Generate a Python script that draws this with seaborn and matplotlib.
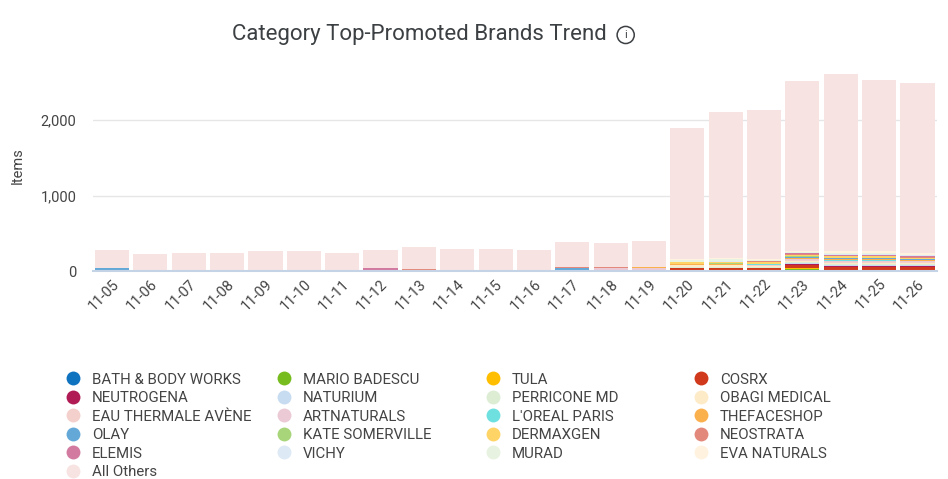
import numpy as np
import pandas as pd
import seaborn as sns
import matplotlib.pyplot as plt
from matplotlib.lines import Line2D
from matplotlib.ticker import StrMethodFormatter

# dates on the x axis
dates = ["11-05", "11-06", "11-07", "11-08", "11-09", "11-10", "11-11", "11-12",
         "11-13", "11-14", "11-15", "11-16", "11-17", "11-18", "11-19", "11-20",
         "11-21", "11-22", "11-23", "11-24", "11-25", "11-26"]

# total items per day (bar height)
totals = [278, 225, 240, 240, 265, 265, 240, 278, 318, 290, 290, 278,
          385, 370, 397, 1895, 2105, 2130, 2515, 2610, 2530, 2490]

# brand series, stacked bottom -> top in this order
bath_body_works = [0, 0, 0, 0, 0, 0, 0, 0, 0, 0, 0, 0, 0, 0, 0, 0, 0, 0, 10, 5, 5, 5]
mario_badescu   = [0, 0, 0, 0, 0, 0, 0, 0, 0, 0, 0, 0, 0, 0, 0, 0, 0, 0, 20, 0, 0, 0]
tula            = [0, 0, 0, 0, 0, 0, 0, 0, 0, 0, 0, 0, 0, 0, 15, 10, 10, 10, 15, 10, 10, 10]
cosrx           = [0, 0, 0, 0, 0, 0, 0, 0, 0, 0, 0, 0, 20, 20, 0, 35, 35, 35, 35, 40, 40, 40]
neutrogena      = [0, 0, 0, 0, 0, 0, 0, 0, 0, 0, 0, 0, 0, 0, 0, 0, 0, 0, 15, 15, 15, 15]
naturium        = [0, 0, 0, 0, 0, 0, 0, 0, 0, 0, 0, 0, 0, 0, 0, 0, 0, 0, 15, 10, 10, 10]
perricone_md    = [0, 0, 0, 0, 0, 0, 0, 0, 0, 0, 0, 0, 0, 0, 0, 15, 15, 10, 10, 15, 15, 15]
obagi_medical   = [0, 0, 0, 0, 0, 0, 0, 0, 0, 0, 0, 0, 0, 0, 0, 15, 15, 15, 10, 15, 15, 10]
eau_thermale    = [0, 0, 0, 0, 0, 0, 0, 0, 0, 0, 0, 0, 0, 0, 0, 10, 10, 10, 15, 15, 15, 15]
artnaturals     = [0, 0, 0, 0, 0, 0, 0, 15, 0, 0, 0, 0, 0, 15, 30, 0, 0, 0, 10, 10, 10, 10]
loreal_paris    = [0, 0, 0, 0, 0, 0, 0, 0, 0, 0, 0, 0, 0, 0, 0, 0, 0, 10, 10, 10, 10, 10]
thefaceshop     = [0, 0, 0, 0, 0, 0, 0, 0, 0, 0, 0, 0, 0, 0, 15, 10, 10, 0, 15, 10, 10, 10]
olay            = [35, 0, 0, 0, 0, 0, 0, 0, 0, 0, 0, 0, 15, 0, 0, 0, 0, 0, 10, 15, 15, 15]
kate_somerville = [0, 0, 0, 0, 0, 0, 0, 0, 0, 0, 0, 0, 0, 0, 0, 0, 10, 10, 10, 10, 10, 0]
dermaxgen       = [0, 0, 0, 0, 0, 0, 0, 0, 0, 0, 0, 0, 0, 0, 0, 20, 20, 15, 15, 15, 15, 10]
neostrata       = [0, 0, 0, 0, 0, 0, 0, 0, 25, 0, 0, 0, 15, 15, 0, 0, 0, 15, 10, 10, 10, 10]
elemis          = [0, 0, 0, 0, 0, 0, 0, 20, 0, 0, 0, 0, 0, 0, 0, 0, 0, 0, 10, 15, 15, 15]
vichy           = [0, 0, 0, 0, 0, 0, 0, 0, 0, 0, 0, 0, 0, 0, 0, 10, 10, 5, 10, 10, 10, 10]
murad           = [0, 0, 0, 0, 0, 0, 0, 0, 0, 0, 0, 0, 0, 0, 0, 20, 20, 10, 10, 15, 15, 10]
eva_naturals    = [0, 0, 0, 0, 0, 0, 0, 0, 0, 0, 0, 0, 0, 0, 0, 15, 15, 10, 15, 20, 20, 15]

brands = ["BATH & BODY WORKS", "MARIO BADESCU", "TULA", "COSRX",
          "NEUTROGENA", "NATURIUM", "PERRICONE MD", "OBAGI MEDICAL",
          "EAU THERMALE AVÈNE", "ARTNATURALS", "L'OREAL PARIS", "THEFACESHOP",
          "OLAY", "KATE SOMERVILLE", "DERMAXGEN", "NEOSTRATA",
          "ELEMIS", "VICHY", "MURAD", "EVA NATURALS", "All Others"]

colors = ["#0f73c0", "#77bc1f", "#ffbf00", "#d0391c",
          "#b01b55", "#c7dcf0", "#dcedd4", "#fdebc8",
          "#f3d0cc", "#ebc9d5", "#6fe0e0", "#fbb04e",
          "#64a8d8", "#a8d57a", "#ffd466", "#e3897b",
          "#d27aa0", "#dde9f5", "#e7f2e1", "#fff3df", "#f8e3e3"]

series = [bath_body_works, mario_badescu, tula, cosrx, neutrogena, naturium,
          perricone_md, obagi_medical, eau_thermale, artnaturals, loreal_paris,
          thefaceshop, olay, kate_somerville, dermaxgen, neostrata, elemis,
          vichy, murad, eva_naturals]

df = pd.DataFrame(dict(zip(brands[:-1], series)), index=dates)
df["All Others"] = np.array(totals) - df.sum(axis=1)
cum = df.cumsum(axis=1)

sns.set_style("white")
plt.rcParams["font.family"] = ["Roboto", "DejaVu Sans"]

fig = plt.figure(figsize=(9.48, 4.79), dpi=100)
ax = fig.add_axes([0.098, 0.434, 0.890, 0.441])

# stacked bars: draw cumulative totals from the top layer down
for name, col in zip(brands[::-1], colors[::-1]):
    sns.barplot(x=dates, y=cum[name].values, color=col, saturation=1,
                width=0.89, ax=ax, linewidth=0)

ax.set_ylim(0, 2800)
ax.set_xlim(-0.5, 21.5)
ax.set_yticks([0, 1000, 2000])
ax.yaxis.set_major_formatter(StrMethodFormatter("{x:,.0f}"))
ax.grid(axis="y", color="#e6e6e6", linewidth=1)
ax.set_axisbelow(True)
for s in ["top", "right", "left"]:
    ax.spines[s].set_visible(False)
ax.spines["bottom"].set_color("#c5d3e6")
ax.spines["bottom"].set_linewidth(1.5)
ax.tick_params(axis="y", length=0, pad=12, labelsize=10.5, labelcolor="#444444")
ax.tick_params(axis="x", length=0, pad=4, labelsize=10.5, labelcolor="#444444")
plt.setp(ax.get_xticklabels(), rotation=45, ha="right", rotation_mode="anchor")
ax.set_ylabel("Items", fontsize=10.5, color="#444444", labelpad=11)
ax.set_xlabel("")

fig.text(0.442, 0.929, "Category Top-Promoted Brands Trend", ha="center",
         va="center", fontsize=16, color="#3c4043")
fig.text(0.660, 0.927, "i", ha="center", va="center", fontsize=8,
         color="#3c4043",
         bbox=dict(boxstyle="circle,pad=0.32", fc="none", ec="#3c4043", lw=1.1))

# legend: four columns, read left to right
col_x = [0.071, 0.293, 0.514, 0.733]
for c in range(4):
    idx = list(range(c, 20, 4))
    if c == 0:
        idx.append(20)
    handles = [Line2D([], [], marker="o", linestyle="none", markersize=10,
                      markerfacecolor=colors[i], markeredgewidth=0) for i in idx]
    fig.legend(handles, [brands[i] for i in idx], loc="upper left",
               bbox_to_anchor=(col_x[c], 0.222), frameon=False, fontsize=10.8,
               labelcolor="#444444", handletextpad=0.85, labelspacing=0.3,
               borderaxespad=0, borderpad=0, handlelength=0.8)

fig.savefig("out.png", dpi=100)
